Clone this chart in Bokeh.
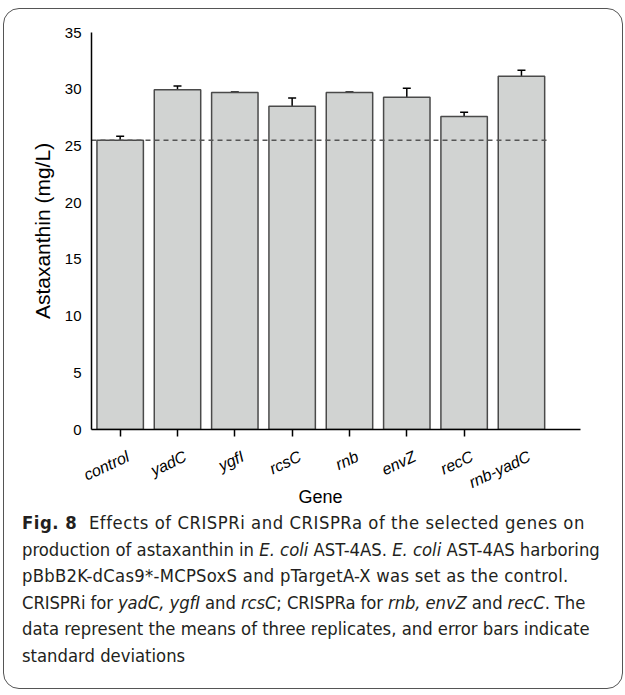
import math
from bokeh.plotting import figure
from bokeh.models import (FixedTicker, Whisker, TeeHead, ColumnDataSource, Div,
                          LinearAxis, Title, CustomJSTickFormatter)
from bokeh.layouts import column
from bokeh.embed import file_html
from bokeh.resources import INLINE

genes = ["control", "yadC", "ygfI", "rcsC", "rnb", "envZ", "recC", "rnb-yadC"]
means = [25.5, 29.95, 29.7, 28.5, 29.7, 29.3, 27.6, 31.15]
sds = [0.36, 0.34, 0.05, 0.72, 0.05, 0.78, 0.37, 0.53]
y_ticks = [0, 5, 10, 15, 20, 25, 30, 35]
x_title = "Gene"
y_title = "Astaxanthin (mg/L)"

n = len(genes)
xs = [i + 0.5 for i in range(n)]
src = ColumnDataSource(dict(
    x=xs, mean=means,
    upper=[m + s for m, s in zip(means, sds)],
    lower=[m - s for m, s in zip(means, sds)],
))

FONT = "Liberation Sans"
FIG_H = 23 + 396 + 110
p = figure(frame_width=489, frame_height=396, x_range=(0, n + 0.53), y_range=(0, 35),
           output_backend="svg", toolbar_location=None,
           min_border_left=87, min_border_top=23, min_border_right=41,
           min_border_bottom=110, margin=0)
p.outline_line_color = None
p.xgrid.visible = False
p.ygrid.visible = False
p.background_fill_color = None
p.border_fill_color = None

p.vbar(x="x", top="mean", width=0.81, bottom=0, source=src,
       fill_color="#d1d3d2", line_color="#4a4a4a", line_width=1.5)

p.line([0, n], [means[0], means[0]], line_color="#555555",
       line_width=1.5, line_dash="5 4")

wh = Whisker(source=src, base="x", upper="upper", lower="lower",
             line_color="black", line_width=1.5,
             upper_head=TeeHead(size=8, line_color="black", line_width=1.5),
             lower_head=TeeHead(size=8, line_color="black", line_width=1.5))
p.add_layout(wh)

# y axis
p.yaxis.ticker = FixedTicker(ticks=y_ticks)
p.yaxis.major_tick_out = 0
p.yaxis.major_tick_in = 0
p.yaxis.minor_tick_out = 0
p.yaxis.minor_tick_in = 0
p.yaxis.major_label_standoff = 10
p.yaxis.axis_line_width = 1.5
p.yaxis.axis_line_color = "black"
p.yaxis.major_label_text_font = FONT
p.yaxis.major_label_text_font_size = "15px"
p.yaxis.major_label_text_color = "black"

# x axis: labels (invisible major ticks shifted), long ticks at centers as minor ticks
xa = p.xaxis[0]
xa.ticker = FixedTicker(ticks=[x + 0.14 for x in xs],
                        minor_ticks=[i + 0.5 for i in range(n - 1)])
xa.formatter = CustomJSTickFormatter(args=dict(names=genes),
                                     code="return names[Math.floor(tick)];")
xa.major_tick_out = 0
xa.major_tick_in = 0
xa.major_tick_line_color = None
xa.minor_tick_out = 7
xa.minor_tick_in = 0
xa.minor_tick_line_width = 1.5
xa.minor_tick_line_color = "black"
xa.axis_line_width = 1.5
xa.axis_line_color = "black"
xa.major_label_orientation = math.radians(25)
xa.major_label_standoff = 19
xa.major_label_text_font = FONT
xa.major_label_text_font_style = "italic"
xa.major_label_text_font_size = "16px"
xa.major_label_text_color = "black"

p.add_layout(Title(text=x_title, align="left", offset=207, standoff=-30,
                   vertical_align="top",
                   text_font=FONT, text_font_style="normal",
                   text_font_size="18px", text_color="black"), "below")

# short ticks at category boundaries
xb = LinearAxis(fixed_location=0,
                ticker=FixedTicker(ticks=[], minor_ticks=list(range(n + 1))),
                axis_line_color=None, major_tick_line_color=None,
                minor_tick_out=3, minor_tick_in=0, minor_tick_line_width=1.5,
                minor_tick_line_color="black", major_label_standoff=0)
p.add_layout(xb, "below")

p.add_layout(Title(text=y_title, align="center", standoff=16,
                   text_font=FONT, text_font_style="normal",
                   text_font_size="21px", text_color="black"), "left")

caption_html = (
    '<div style="position:relative;top:-29px;'
    'font-family:\'Liberation Sans Narrow\',\'DejaVu Sans Condensed\',\'Open Sans\',sans-serif;'
    'font-stretch:condensed;font-size:18.3px;line-height:26.5px;color:#231f20;white-space:nowrap;'
    'padding:0 0 0 18px;">'
    '<span style="letter-spacing:0.55px"><b>Fig. 8</b>&nbsp; Effects of CRISPRi and CRISPRa of the selected genes on</span><br>'
    'production of astaxanthin in <i>E. coli</i> AST-4AS. <i>E. coli</i> AST-4AS harboring<br>'
    '<span style="letter-spacing:0.27px">pBbB2K-dCas9*-MCPSoxS and pTargetA-X was set as the control.</span><br>'
    '<span style="letter-spacing:-0.1px">CRISPRi for <i>yadC, ygfI</i> and <i>rcsC</i>; CRISPRa for <i>rnb, envZ</i> and <i>recC</i>. The</span><br>'
    'data represent the means of three replicates, and error bars indicate<br>'
    'standard deviations</div>'
)
cap = Div(text=caption_html, width=617, height=678 - FIG_H, margin=0)

layout = column(p, cap, width=620, height=681,
                styles={"border": "1.5px solid #555555", "border-radius": "16px",
                        "overflow": "hidden"},
                margin=(8, 0, 0, 3))

open("out.html", "w").write(file_html(layout, INLINE))
